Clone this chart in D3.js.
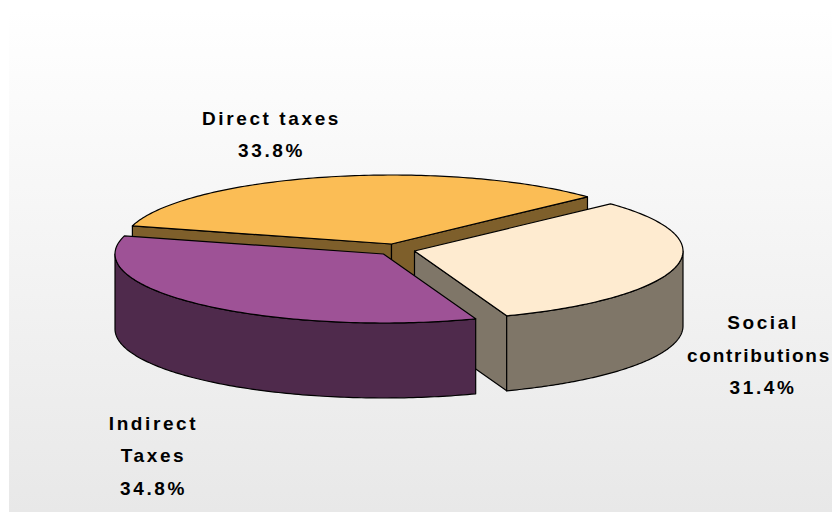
<!DOCTYPE html>
<html>
<head>
<meta charset="utf-8">
<title>Tax revenue structure</title>
<script src="https://cdnjs.cloudflare.com/ajax/libs/d3/7.8.5/d3.min.js"></script>
<style>
  html, body { margin: 0; padding: 0; background: #fff; overflow: hidden; }
  svg { display: block; }
  text { font-family: "Liberation Sans", Arial, sans-serif; font-weight: bold; font-size: 19px; letter-spacing: 2.6px; fill: #000; text-anchor: middle; }
</style>
</head>
<body>
<svg id="chart" width="832" height="512"></svg>
<script>
// Shares of government revenue, in percent
const categories = ["Direct taxes", "Social contributions", "Indirect Taxes"];
const shares = [33.8, 31.4, 34.8];
const labelLines = [["Direct taxes"], ["Social", "contributions"], ["Indirect", "Taxes"]];

const topColors = ["#fbbd55", "#feebd0", "#9e5296"];
const sideColors = ["#7e5f2b", "#7f7668", "#4f2a4c"];
const slicePivots = [[391.5, 244], [414.5, 251], [383.5, 254]];
const labelAnchors = [[271.5, 124.7], [763, 329], [153.5, 429.5]];

const width = 832, height = 512;
const radiusX = 268.5, radiusY = 69, depth = 75;
const lineGap = 32.6;
const firstAngle = -74.8 * Math.PI / 180;

const svg = d3.select("#chart");

const defs = svg.append("defs");
const backdrop = defs.append("linearGradient")
  .attr("id", "backdrop").attr("x1", 0).attr("y1", 0).attr("x2", 0).attr("y2", 1);
backdrop.append("stop").attr("offset", 0).attr("stop-color", "#ffffff");
backdrop.append("stop").attr("offset", 1).attr("stop-color", "#e8e8e8");

svg.append("rect")
  .attr("x", 9).attr("y", 9)
  .attr("width", width - 9).attr("height", height - 9)
  .attr("fill", "url(#backdrop)");

const pie = d3.pie().sort(null)
  .startAngle(firstAngle)
  .endAngle(firstAngle + 2 * Math.PI);
const slices = pie(shares);

// Angle measured clockwise from twelve o'clock, projected onto the tilted disc
const rim = (pivot, a, drop = 0) => [
  pivot[0] + radiusX * Math.sin(a),
  pivot[1] - radiusY * Math.cos(a) + drop
];
const trace = d3.line();

// Samples along the outer rim between two angles
const rimPoints = (pivot, a0, a1, drop = 0) =>
  d3.range(0, 121).map(i => rim(pivot, a0 + (a1 - a0) * i / 120, drop));

const closed = pts => trace(pts) + "Z";
const outline = { stroke: "#000", "stroke-width": 1.2, "stroke-linejoin": "round" };
const styled = (sel, fill) => {
  sel.attr("fill", fill);
  Object.entries(outline).forEach(([k, v]) => sel.attr(k, v));
  return sel;
};

// Slices are painted back to front: Direct taxes, Social contributions, Indirect Taxes
slices.forEach((s, i) => {
  const pivot = slicePivots[i];
  const g = svg.append("g").attr("class", "slice").attr("data-name", categories[i]);
  const a0 = s.startAngle, a1 = s.endAngle;
  const quad = a => [rim(pivot, a), [pivot[0], pivot[1]], [pivot[0], pivot[1] + depth], rim(pivot, a, depth)];

  // Cut faces that look towards the viewer
  if (i === 0) {
    styled(g.append("path").attr("d", closed(quad(a0))), sideColors[i]);
    styled(g.append("path").attr("d", closed(quad(a1))), sideColors[i]);
  }
  if (i === 1) {
    styled(g.append("path").attr("d", closed(quad(a1))), sideColors[i]);
  }

  // Outer wall, limited to the front half of the disc
  const wall0 = Math.max(a0, Math.PI / 2);
  const wall1 = Math.min(a1, 3 * Math.PI / 2);
  if (wall1 > wall0) {
    const upper = rimPoints(pivot, wall0, wall1);
    const lower = rimPoints(pivot, wall1, wall0, depth);
    styled(g.append("path").attr("d", closed(upper.concat(lower))), sideColors[i]);
  }

  // Top face
  const face = [[pivot[0], pivot[1]]].concat(rimPoints(pivot, a0, a1));
  styled(g.append("path").attr("d", closed(face)), topColors[i]);
});

// Category name lines followed by the share
labelLines.forEach((lines, i) => {
  const all = lines.concat(d3.format(".1f")(shares[i]) + "%");
  all.forEach((t, k) => {
    const label = svg.append("text")
      .attr("x", labelAnchors[i][0])
      .attr("y", labelAnchors[i][1] + k * lineGap)
      .text(t);

    // A line too wide for the right margin is tightened and pinned inside it
    const edge = width - 1;
    const natural = label.node().getComputedTextLength();
    if (labelAnchors[i][0] + natural / 2 > edge) {
      const left = 687;
      const spare = (edge - left) - (natural - t.length * 2.6);
      label.style("letter-spacing", (spare / t.length) + "px")
        .style("text-anchor", "start")
        .attr("x", left);
    }
  });
});
</script>
</body>
</html>
